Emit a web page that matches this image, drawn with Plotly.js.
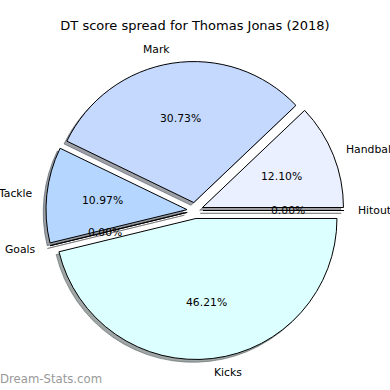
<!DOCTYPE html>
<html><head><meta charset="utf-8">
<script src="https://cdn.plot.ly/plotly-3.0.1.min.js"></script>
<style>html,body{margin:0;padding:0;background:#fff}#chart{width:390px;height:390px}</style>
</head><body><div id="chart"></div>
<script>
// ---- data ----
const labels = ['Hitout', 'Handball', 'Mark', 'Tackle', 'Goals', 'Kicks'];
const values = [0, 12.10, 30.73, 10.97, 0, 46.21];
const colors = ['#ffffff', '#eaf0ff', '#c5d9ff', '#b5d6ff', '#ffffff', '#dcffff'];
const titleText = 'DT score spread for Thomas Jonas (2018)';
const watermark = 'Dream-Stats.com';

// ---- layout constants ----
const W = 390, H = 390;
const CX = 195, CY = 210.5, R = 141, PULL = 0.057, SH = 2.8;
const FONT = 'DejaVu Sans';
const half = R * (1 + PULL);
const dom = {x: [(CX - half) / W, (CX + half) / W], y: [(H - CY - half) / H, (H - CY + half) / H]};
const shDom = {x: [dom.x[0] - SH / W, dom.x[1] - SH / W], y: [dom.y[0] - SH / H, dom.y[1] - SH / H]};

function shadowOf(hex) {
  const n = parseInt(hex.slice(1), 16);
  const r = Math.round(((n >> 16) & 255) * 0.3), g = Math.round(((n >> 8) & 255) * 0.3), b = Math.round((n & 255) * 0.3);
  return 'rgba(' + r + ',' + g + ',' + b + ',0.5)';
}
const shColors = colors.map(shadowOf);
const pulls = values.map(() => PULL);

const shadow = {
  type: 'pie', labels: labels, values: values, sort: false, direction: 'counterclockwise', rotation: 90,
  pull: pulls, domain: shDom, textinfo: 'none', hoverinfo: 'skip', showlegend: false,
  marker: {colors: shColors, line: {color: shColors, width: 1}}
};
const main = {
  type: 'pie', labels: labels, values: values, sort: false, direction: 'counterclockwise', rotation: 90,
  pull: pulls, domain: dom, textinfo: 'none', hoverinfo: 'skip', showlegend: false,
  marker: {colors: colors, line: {color: '#000000', width: 1}}
};

// text placed like matplotlib's pie labels (labeldistance 1.1, pctdistance 0.6)
const total = values.reduce((a, b) => a + b, 0);
const annotations = [];
let cum = 0;
values.forEach((v, i) => {
  const a0 = cum / total * 360; cum += v;
  const a1 = cum / total * 360;
  const mid = (a0 + a1) / 2 * Math.PI / 180;
  const c = Math.cos(mid), s = Math.sin(mid);
  const ex = CX + PULL * R * c, ey = CY - PULL * R * s;
  const lx = ex + 1.1 * R * c, ly = ey - 1.1 * R * s;
  const px = ex + 0.6 * R * c, py = ey - 0.6 * R * s;
  annotations.push({xref: 'paper', yref: 'paper', x: lx / W, y: 1 - ly / H, text: labels[i], showarrow: false,
    borderpad: 0, borderwidth: 0,
    xanchor: c > 0 ? 'left' : 'right', yanchor: 'middle', font: {family: FONT, size: 10.8, color: '#000'}});
  annotations.push({xref: 'paper', yref: 'paper', x: px / W, y: 1 - py / H, text: (v / total * 100).toFixed(2) + '%',
    borderpad: 0, borderwidth: 0,
    showarrow: false, xanchor: 'center', yanchor: 'middle', font: {family: FONT, size: 10.8, color: '#000'}});
});
annotations.push({xref: 'paper', yref: 'paper', x: 0, y: 1 - 379 / H, text: watermark, showarrow: false,
  borderpad: 0, borderwidth: 0,
  xanchor: 'left', yanchor: 'middle', font: {family: FONT, size: 11.7, color: '#999999'}});

const layout = {
  width: W, height: H, margin: {l: 0, r: 0, t: 0, b: 0}, paper_bgcolor: '#ffffff',
  title: {text: titleText, x: 0.5, xanchor: 'center', y: 1 - 25 / H, yanchor: 'middle', font: {family: FONT, size: 13, color: '#000'}},
  annotations: annotations, showlegend: false
};
Plotly.newPlot('chart', [shadow, main], layout, {staticPlot: true});
</script></body></html>
